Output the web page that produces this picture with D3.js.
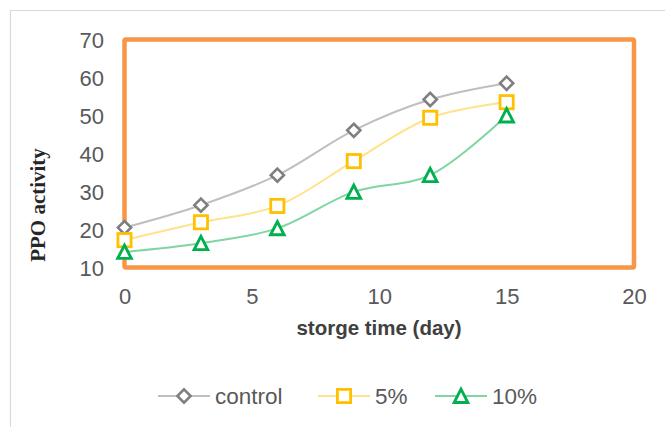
<!DOCTYPE html>
<html>
<head>
<meta charset="utf-8">
<script src="https://cdn.jsdelivr.net/npm/d3@7/dist/d3.min.js"></script>
<style>
  html, body { margin: 0; padding: 0; background: #fff; }
  svg { display: block; }
</style>
</head>
<body>
<svg id="chart" width="665" height="427"></svg>
<script>
// Storage days and PPO activity for each treatment
const days = [0, 3, 6, 9, 12, 15];
const control = [20.5, 26.4, 34.3, 46.1, 54.2, 58.5];
const pct5 = [17.2, 21.9, 26.2, 38.0, 49.4, 53.5];
const pct10 = [14.1, 16.4, 20.3, 29.9, 34.3, 50.0];
const seriesNames = ["control", "5%", "10%"];
const xTicks = [0, 5, 10, 15, 20];
const yTicks = [10, 20, 30, 40, 50, 60, 70];

const series = [
  { name: seriesNames[0], values: control, line: "#BFBFBF", marker: "#7F7F7F", shape: "diamond" },
  { name: seriesNames[1], values: pct5, line: "#FFE28A", marker: "#FFC000", shape: "square" },
  { name: seriesNames[2], values: pct10, line: "#7FD6A0", marker: "#00B050", shape: "triangle" }
];

const svg = d3.select("#chart");

// outer chart frame
svg.append("path")
  .attr("d", "M10.5,700 L10.5,10.5 L700,10.5")
  .attr("fill", "none").attr("stroke", "#D9D9D9").attr("stroke-width", 1.2);

const x = d3.scaleLinear().domain([0, 20]).range([124.5, 634]);
const y = d3.scaleLinear().domain([10, 70]).range([267.5, 39.5]);

// plot area border
svg.append("rect")
  .attr("x", x(0)).attr("y", y(70))
  .attr("width", x(20) - x(0)).attr("height", y(10) - y(70))
  .attr("fill", "none").attr("stroke", "#F79646").attr("stroke-width", 4.5)
  .attr("rx", 1.5);

// axes (labels only)
const yAxis = d3.axisLeft(y).tickValues(yTicks).tickSize(0).tickPadding(0);
const gy = svg.append("g").attr("transform", `translate(104,0)`).call(yAxis);
gy.select(".domain").remove();
gy.selectAll("text")
  .attr("font-family", "Liberation Sans, Arial, sans-serif")
  .attr("font-size", 22).attr("fill", "#595959").attr("dy", "0.35em");

const xAxis = d3.axisBottom(x).tickValues(xTicks).tickSize(0).tickPadding(0);
const gx = svg.append("g").attr("transform", `translate(0,288)`).call(xAxis);
gx.select(".domain").remove();
gx.selectAll("text")
  .attr("font-family", "Liberation Sans, Arial, sans-serif")
  .attr("font-size", 22).attr("fill", "#595959").attr("dy", "0.71em");

// axis titles
svg.append("text")
  .attr("x", 379).attr("y", 335)
  .attr("text-anchor", "middle")
  .attr("font-family", "Liberation Sans, Arial, sans-serif")
  .attr("font-weight", "bold").attr("font-size", 20.5).attr("fill", "#404040")
  .text("storge time (day)");

svg.append("text")
  .attr("transform", "translate(45,205) rotate(-90)")
  .attr("text-anchor", "middle")
  .attr("font-family", "Liberation Serif, Times New Roman, serif")
  .attr("font-weight", "bold").attr("font-size", 21).attr("fill", "#262626")
  .text("PPO activity");

// marker drawing helper
function drawMarker(g, shape, cx, cy, color) {
  if (shape === "diamond") {
    const r = 6.6;
    g.append("path")
      .attr("d", `M${cx},${cy - r} L${cx + r},${cy} L${cx},${cy + r} L${cx - r},${cy} Z`)
      .attr("fill", "#fff").attr("stroke", color).attr("stroke-width", 2.6);
  } else if (shape === "square") {
    const h = 6.6;
    g.append("rect")
      .attr("x", cx - h).attr("y", cy - h).attr("width", 2 * h).attr("height", 2 * h)
      .attr("fill", "#fff").attr("stroke", color).attr("stroke-width", 2.8);
  } else {
    const h = 6.8;
    g.append("path")
      .attr("d", `M${cx},${cy - h} L${cx + h},${cy + h * 0.95} L${cx - h},${cy + h * 0.95} Z`)
      .attr("fill", "#fff").attr("stroke", color).attr("stroke-width", 2.9)
      .attr("stroke-linejoin", "miter");
  }
}

const line = d3.line()
  .x((d, i) => x(days[i]))
  .y(d => y(d))
  .curve(d3.curveCatmullRom.alpha(0.5));

// lines first, then markers on top
series.forEach(s => {
  svg.append("path")
    .attr("d", line(s.values))
    .attr("fill", "none").attr("stroke", s.line).attr("stroke-width", 2);
});
series.forEach(s => {
  const g = svg.append("g");
  s.values.forEach((v, i) => drawMarker(g, s.shape, x(days[i]), y(v), s.marker));
});

// legend
const legendItems = [
  { s: series[0], x0: 158, tx: 215 },
  { s: series[1], x0: 318, tx: 375 },
  { s: series[2], x0: 435, tx: 492 }
];
const ly = 396;
legendItems.forEach(item => {
  const g = svg.append("g");
  g.append("line")
    .attr("x1", item.x0).attr("x2", item.x0 + 52)
    .attr("y1", ly).attr("y2", ly)
    .attr("stroke", item.s.line).attr("stroke-width", 2);
  drawMarker(g, item.s.shape, item.x0 + 26, ly, item.s.marker);
  g.append("text")
    .attr("x", item.tx).attr("y", ly).attr("dy", "0.35em")
    .attr("font-family", "Liberation Sans, Arial, sans-serif")
    .attr("font-size", 22.5).attr("fill", "#595959")
    .text(item.s.name);
});
</script>
</body>
</html>
